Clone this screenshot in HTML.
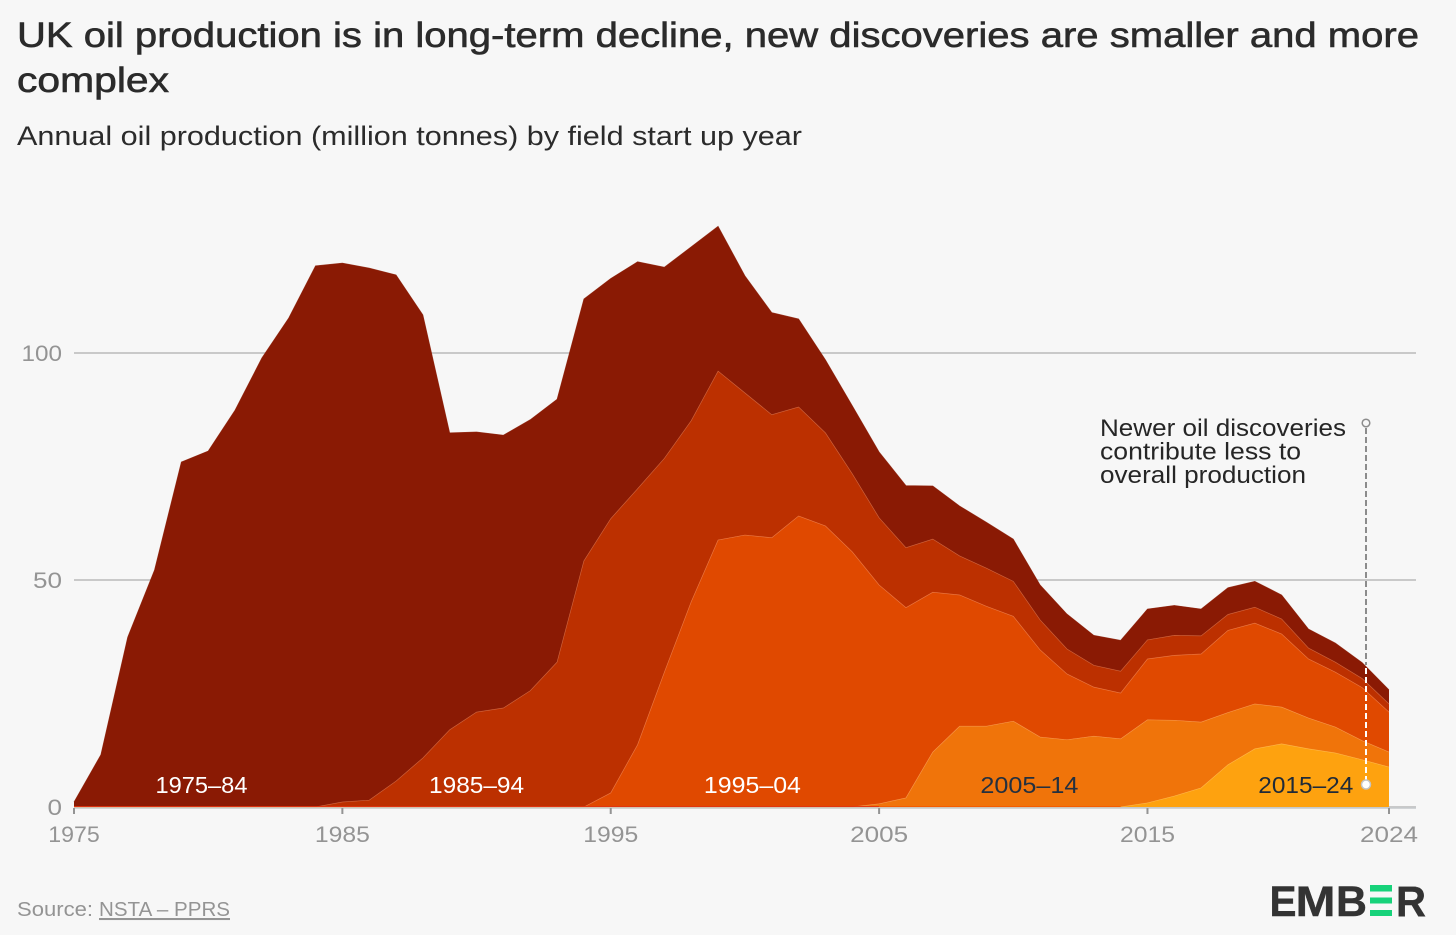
<!DOCTYPE html>
<html lang="en">
<head>
<meta charset="utf-8">
<title>UK oil production is in long-term decline</title>
<style>
html,body{margin:0;padding:0;background:#f7f7f7;}
body{width:1456px;height:935px;overflow:hidden;}
svg{display:block;font-family:"Liberation Sans",sans-serif;}
</style>
</head>
<body>
<svg id="chart" xmlns="http://www.w3.org/2000/svg" width="1456" height="935" viewBox="0 0 1456 935">
  <rect x="0" y="0" width="1456" height="935" fill="#f7f7f7"/>
  <text x="17" y="47" font-size="35" fill="#2b2b2b" stroke="#2b2b2b" stroke-width="0.6" textLength="1402" lengthAdjust="spacingAndGlyphs">UK oil production is in long-term decline, new discoveries are smaller and more</text>
  <text x="17" y="92" font-size="35" fill="#2b2b2b" stroke="#2b2b2b" stroke-width="0.6" textLength="152" lengthAdjust="spacingAndGlyphs">complex</text>
  <text x="17" y="145" font-size="27" fill="#2b2b2b" textLength="785" lengthAdjust="spacingAndGlyphs">Annual oil production (million tonnes) by field start up year</text>

  <g id="grid"></g>
  <g id="yLabels"></g>
  <g id="areas"></g>
  <g id="xAxis"></g>
  <g id="bandLabels"></g>

  <g>
    <text x="1100" y="436" font-size="24" fill="#262626" textLength="246" lengthAdjust="spacingAndGlyphs">Newer oil discoveries</text>
    <text x="1100" y="459.5" font-size="24" fill="#262626" textLength="201" lengthAdjust="spacingAndGlyphs">contribute less to</text>
    <text x="1100" y="483" font-size="24" fill="#262626" textLength="206" lengthAdjust="spacingAndGlyphs">overall production</text>
    <line x1="1366" y1="428" x2="1366" y2="665" stroke="#8c8c8c" stroke-width="2" stroke-dasharray="6 3"/>
    <line x1="1366" y1="668" x2="1366" y2="780" stroke="#ffffff" stroke-width="2" stroke-dasharray="6 3"/>
    <circle cx="1366" cy="423" r="3.8" fill="#f7f7f7" stroke="#8c8c8c" stroke-width="1.5"/>
    <circle cx="1366" cy="784.5" r="4.5" fill="#ffffff" stroke="#c4c4c4" stroke-width="1.5"/>
  </g>

  <g>
    <text x="17" y="916" font-size="20.5" fill="#949494" textLength="76" lengthAdjust="spacingAndGlyphs">Source:</text>
    <text x="99" y="916" font-size="20.5" fill="#949494" text-decoration="underline" textLength="131" lengthAdjust="spacingAndGlyphs">NSTA – PPRS</text>
  </g>

  <g>
    <title>EMBER</title>
    <text x="1269.5" y="916" font-size="43" font-weight="bold" fill="#333333" stroke="#333333" stroke-width="0.4" textLength="27" lengthAdjust="spacingAndGlyphs">E</text>
    <text x="1295.5" y="916" font-size="43" font-weight="bold" fill="#333333" stroke="#333333" stroke-width="0.4" textLength="40" lengthAdjust="spacingAndGlyphs">M</text>
    <text x="1336" y="916" font-size="43" font-weight="bold" fill="#333333" stroke="#333333" stroke-width="0.4" textLength="31" lengthAdjust="spacingAndGlyphs">B</text>
    <rect x="1370" y="885" width="22" height="6.5" fill="#17d27a"/>
    <rect x="1370" y="897.5" width="22" height="6" fill="#17d27a"/>
    <rect x="1370" y="910" width="22" height="6" fill="#17d27a"/>
    <text x="1396" y="916" font-size="43" font-weight="bold" fill="#333333" stroke="#333333" stroke-width="0.4" textLength="30" lengthAdjust="spacingAndGlyphs">R</text>
  </g>
</svg>

<script>
// Years on the x-axis
const firstYear = 1975;
const lastYear = 2024;

// Annual production (million tonnes) by field start-up cohort, one value per year 1975-2024
const cohort1975 = [1.1,11.5,37.4,52.2,76.0,78.4,87.4,98.9,107.7,119.2,118.7,117.2,111.5,97.6,65.4,61.7,60.1,59.7,57.9,57.7,52.9,50.0,42.1,38.3,31.9,25.8,22.5,19.4,16.1,15.0,14.5,13.7,11.7,11.0,10.1,9.3,7.7,7.7,6.6,6.8,6.8,6.6,5.9,5.9,5.7,5.3,4.2,4.2,3.5,3.1];
const cohort1985 = [0,0,0,0,0,0,0,0,0,0,1.1,1.5,5.7,10.8,17.0,20.9,21.8,25.6,31.9,54.2,60.4,56.4,47.1,39.9,37.2,31.3,27.1,24.0,20.5,17.2,14.8,13.2,11.7,8.6,8.4,7.7,6.6,5.5,4.8,4.8,4.2,4.4,4.0,3.5,3.5,3.3,2.4,2.2,2.0,1.8];
const cohort1995 = [0,0,0,0,0,0,0,0,0,0,0,0,0,0,0,0,0,0,0,0,3.1,13.7,29.7,45.2,58.8,59.9,59.3,64.1,61.9,56.2,48.2,41.9,35.2,28.9,26.4,23.1,19.2,14.5,10.8,10.1,13.4,14.3,15.0,18.1,17.8,16.1,13.0,12.1,11.7,8.8];
const cohort2005 = [0,0,0,0,0,0,0,0,0,0,0,0,0,0,0,0,0,0,0,0,0,0,0,0,0,0,0,0,0,0,0.7,2.0,12.1,17.8,17.8,18.9,15.4,14.8,15.6,15.0,18.3,16.7,14.5,11.5,9.9,8.1,6.8,5.7,4.2,3.3];
const cohort2015 = [0,0,0,0,0,0,0,0,0,0,0,0,0,0,0,0,0,0,0,0,0,0,0,0,0,0,0,0,0,0,0,0,0,0,0,0,0,0,0,0,0.9,2.4,4.2,9.3,12.8,13.9,12.8,11.9,10.4,8.8];

// Tick labels
const yTicks = [0, 50, 100];
const xTicks = [1975, 1985, 1995, 2005, 2015, 2024];

// Cohort names (bottom of stack last)
const cohortNames = ["1975–84", "1985–94", "1995–04", "2005–14", "2015–24"];

const NS = "http://www.w3.org/2000/svg";
const X0 = 74, X1 = 1389, Y0 = 807, PX_PER_UNIT = 4.54;
function xScale(year) { return X0 + (year - firstYear) * (X1 - X0) / (lastYear - firstYear); }
function yScale(value) { return Y0 - value * PX_PER_UNIT; }
function labelWidth(str) {
  let w = 0;
  for (const ch of String(str)) { w += ch === "1" ? 11.5 : ch === "7" ? 11 : 14.5; }
  return w;
}
function make(tag, attrs, parent, txt) {
  const el = document.createElementNS(NS, tag);
  for (const k in attrs) el.setAttribute(k, attrs[k]);
  if (txt !== undefined) el.textContent = txt;
  parent.appendChild(el);
  return el;
}

// Gridlines and y labels
const gridG = document.getElementById("grid");
const yLabelG = document.getElementById("yLabels");
yTicks.forEach(function (t) {
  const line = make("line", {x1: X0, x2: 1416, y1: yScale(t), y2: yScale(t), stroke: "#c9c9c9", "stroke-width": 2}, gridG);
  
  
  const label = make("text", {x: 62, y: yScale(t) + 8, "text-anchor": "end", "font-size": 22.5, fill: "#949494", textLength: labelWidth(t), lengthAdjust: "spacingAndGlyphs"}, yLabelG, String(t));
  
  
});

// Stacked areas, bottom-up
const stackOrder = [
  {values: cohort2015, fill: "#fea20f", edge: "#ffb84a"},
  {values: cohort2005, fill: "#f0740a", edge: "#f79a4e"},
  {values: cohort1995, fill: "#e04900", edge: "#ee7a45"},
  {values: cohort1985, fill: "#bc3000", edge: "#d2663e"},
  {values: cohort1975, fill: "#8a1a04", edge: "#8a1a04"}
];
const areasG = document.getElementById("areas");
const baseline = cohort1975.map(function () { return 0; });
const drawn = [];
stackOrder.forEach(function (band) {
  const lower = baseline.slice();
  const upper = lower.map(function (v, i) { return v + band.values[i]; });
  upper.forEach(function (v, i) { baseline[i] = v; });
  drawn.push({band: band, lower: lower, upper: upper});
});
// Draw top band first so lower bands' edges sit on top
drawn.slice().reverse().forEach(function (d) {
  let top = "", bottom = "";
  d.upper.forEach(function (v, i) {
    top += (i ? "L" : "M") + xScale(firstYear + i).toFixed(2) + " " + yScale(v).toFixed(2);
  });
  for (let i = d.lower.length - 1; i >= 0; i--) {
    bottom += "L" + xScale(firstYear + i).toFixed(2) + " " + yScale(d.lower[i]).toFixed(2);
  }
  const area = make("path", {d: top + bottom + "Z", fill: d.band.fill}, areasG);
  
  
  const edge = make("path", {d: top, fill: "none", stroke: d.band.edge, "stroke-width": 0.7, "stroke-opacity": 0.8}, areasG);
  
  
});
// Thin seams where the collapsed bands meet the baseline: red under the older bands, orange under 2005-14
const seamRed = make("line", {x1: X0, x2: xScale(2005), y1: Y0 - 0.5, y2: Y0 - 0.5, stroke: "#e0280a", "stroke-width": 1, "stroke-opacity": 0.85}, areasG);


const seamOrange = make("line", {x1: xScale(2005), x2: xScale(2014), y1: Y0 - 0.5, y2: Y0 - 0.5, stroke: "#f65c00", "stroke-width": 1}, areasG);



// X axis baseline, ticks, labels
const xG = document.getElementById("xAxis");
const axisLine = make("line", {x1: X0, x2: 1416, y1: Y0 + 1, y2: Y0 + 1, stroke: "#c6c9cc", "stroke-width": 1.6}, xG);


xTicks.forEach(function (yr) {
  const tick = make("line", {x1: xScale(yr), x2: xScale(yr), y1: Y0 + 1, y2: Y0 + 7, stroke: "#949494", "stroke-width": 2}, xG);
  
  
  const label = make("text", {x: xScale(yr), y: 842, "text-anchor": "middle", "font-size": 22.5, fill: "#949494", textLength: labelWidth(yr), lengthAdjust: "spacingAndGlyphs"}, xG, String(yr));
  
  
});

// Cohort labels sit at the middle of each decade's span
const labelG = document.getElementById("bandLabels");
const labelColors = ["#ffffff", "#ffffff", "#ffffff", "#24303f", "#1f2a38"];
const labelYears = [1979.75, 1990, 2000.28, 2010.6, 2020.9];
const labelWidths = [92, 95, 97, 98, 95];
cohortNames.forEach(function (name, i) {
  const t = make("text", {x: xScale(labelYears[i]), y: 793, "text-anchor": "middle", "font-size": 23, fill: labelColors[i], textLength: labelWidths[i], lengthAdjust: "spacingAndGlyphs"}, labelG, name);
  
  
});
</script>
</body>
</html>
